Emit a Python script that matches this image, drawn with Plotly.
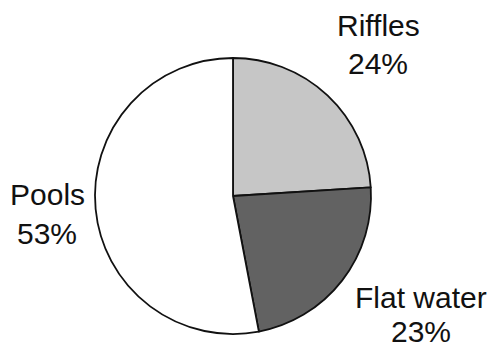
import plotly.graph_objects as go

# Habitat composition
habitats = ["Riffles", "Flat water", "Pools"]
shares = [24, 23, 53]
colors = ["#c6c6c6", "#626262", "#ffffff"]

W, H = 493, 349

fig = go.Figure(go.Pie(
    labels=habitats,
    values=shares,
    sort=False,
    direction="clockwise",
    rotation=0,
    marker=dict(colors=colors, line=dict(color="#111111", width=1.8)),
    textinfo="none",
    hoverinfo="label+percent",
    showlegend=False,
    domain=dict(x=[95 / W, 371 / W], y=[(H - 334) / H, (H - 58) / H]),
))

font = dict(family="Arial, Liberation Sans, sans-serif", size=30, color="#111111")

# Label positions (pixel centres of each text line)
label_pos = {
    "Riffles": (378, 26, 64),
    "Flat water": (421, 297, 331),
    "Pools": (47, 194, 233),
}

for name, pct in zip(habitats, shares):
    x, y1, y2 = label_pos[name]
    for text, y in ((name, y1), (f"{pct}%", y2)):
        fig.add_annotation(
            x=x / W, y=1 - y / H, xref="paper", yref="paper",
            text=text, showarrow=False, font=font,
            xanchor="center", yanchor="middle",
        )

fig.update_layout(
    width=W, height=H,
    margin=dict(l=0, r=0, t=0, b=0),
    paper_bgcolor="white",
    plot_bgcolor="white",
)

fig.write_html("out.html")
